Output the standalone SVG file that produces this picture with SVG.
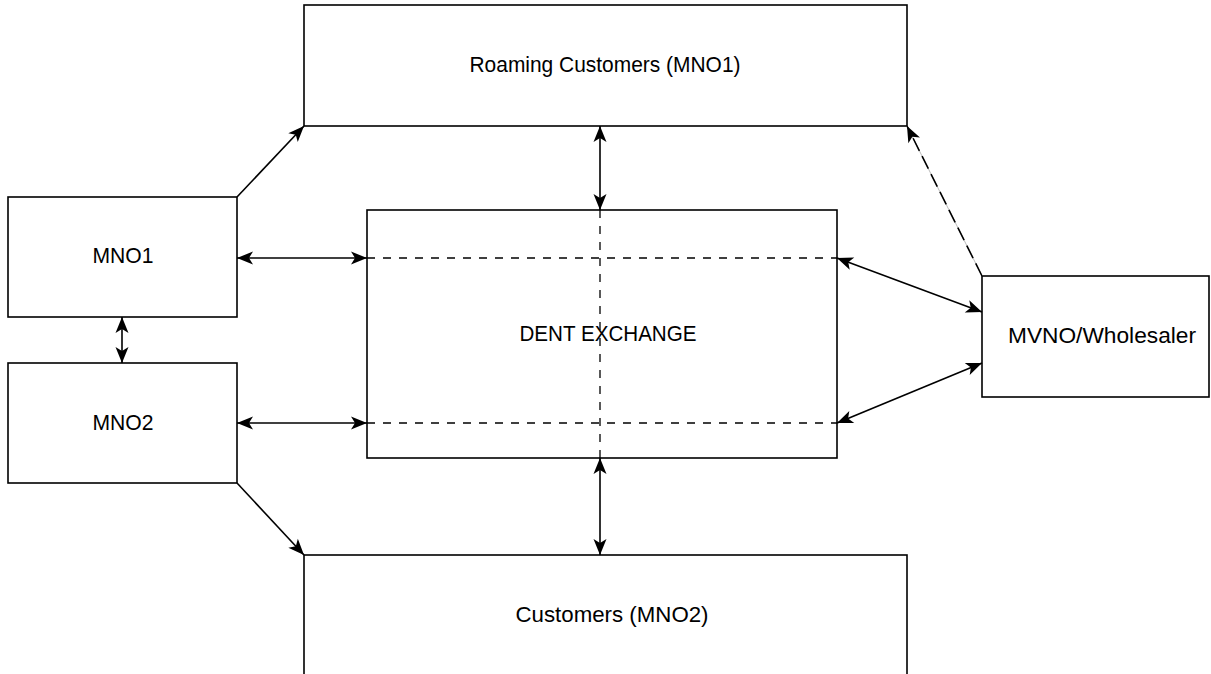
<svg xmlns="http://www.w3.org/2000/svg" width="1211" height="674" viewBox="0 0 1211 674">
<defs>
<style>
.box{fill:#fff;stroke:#000;stroke-width:1.6}
.lbl{font-family:"Liberation Sans",Arial,sans-serif;font-size:22px;fill:#000;text-anchor:middle}
.c{stroke:#000;stroke-width:1.6;fill:none}
.d{stroke:#000;stroke-width:1.3;fill:none;stroke-dasharray:8 8}
</style>
<marker id="ah" markerUnits="userSpaceOnUse" markerWidth="18" markerHeight="15" refX="16" refY="6.5" orient="auto-start-reverse" viewBox="0 0 18 15" overflow="visible">
<path d="M0,0 L16,6.5 L0,13 L4,6.5 z" fill="#000"/>
</marker>
</defs>
<rect width="1211" height="674" fill="#fff"/>
<g id="roaming"><rect class="box" x="304" y="5" width="603" height="121"/><text class="lbl" x="605" y="72" textLength="271" lengthAdjust="spacingAndGlyphs">Roaming Customers (MNO1)</text></g>
<g id="mno1"><rect class="box" x="8" y="197" width="229" height="120"/><text class="lbl" x="123" y="263" textLength="61" lengthAdjust="spacingAndGlyphs">MNO1</text></g>
<g id="mno2"><rect class="box" x="8" y="363" width="229" height="120"/><text class="lbl" x="123" y="430" textLength="61" lengthAdjust="spacingAndGlyphs">MNO2</text></g>
<g id="dent"><rect class="box" x="367" y="210" width="470" height="248"/><text class="lbl" x="608" y="341" textLength="177" lengthAdjust="spacingAndGlyphs">DENT EXCHANGE</text></g>
<g id="mvno"><rect class="box" x="982" y="276" width="227" height="121"/><text class="lbl" x="1102" y="343" textLength="188" lengthAdjust="spacingAndGlyphs">MVNO/Wholesaler</text></g>
<g id="customers"><rect class="box" x="304" y="555" width="603" height="140"/><text class="lbl" x="612" y="622" textLength="193" lengthAdjust="spacingAndGlyphs">Customers (MNO2)</text></g>
<g id="connectors">
<line class="d" x1="367" y1="258" x2="837" y2="258"/>
<line class="d" x1="367" y1="423" x2="837" y2="423"/>
<line class="d" x1="600" y1="210" x2="600" y2="458"/>
<line class="c" x1="237" y1="197" x2="304" y2="126" marker-end="url(#ah)"/>
<line class="c" x1="237" y1="483" x2="304" y2="555" marker-end="url(#ah)"/>
<line class="c" x1="122" y1="317" x2="122" y2="363" marker-start="url(#ah)" marker-end="url(#ah)"/>
<line class="c" x1="237" y1="258" x2="367" y2="258" marker-start="url(#ah)" marker-end="url(#ah)"/>
<line class="c" x1="237" y1="423" x2="367" y2="423" marker-start="url(#ah)" marker-end="url(#ah)"/>
<line class="c" x1="600" y1="126" x2="600" y2="210" marker-start="url(#ah)" marker-end="url(#ah)"/>
<line class="c" x1="600" y1="458" x2="600" y2="555" marker-start="url(#ah)" marker-end="url(#ah)"/>
<line class="c" x1="837" y1="258" x2="982" y2="312" marker-start="url(#ah)" marker-end="url(#ah)"/>
<line class="c" x1="837" y1="423" x2="982" y2="363" marker-start="url(#ah)" marker-end="url(#ah)"/>
<line x1="982" y1="276" x2="907" y2="126" stroke="#bbb" stroke-width="1"/>
<line class="c" x1="982" y1="276" x2="907" y2="126" stroke-dasharray="14 6" marker-end="url(#ah)"/>
</g>
</svg>
